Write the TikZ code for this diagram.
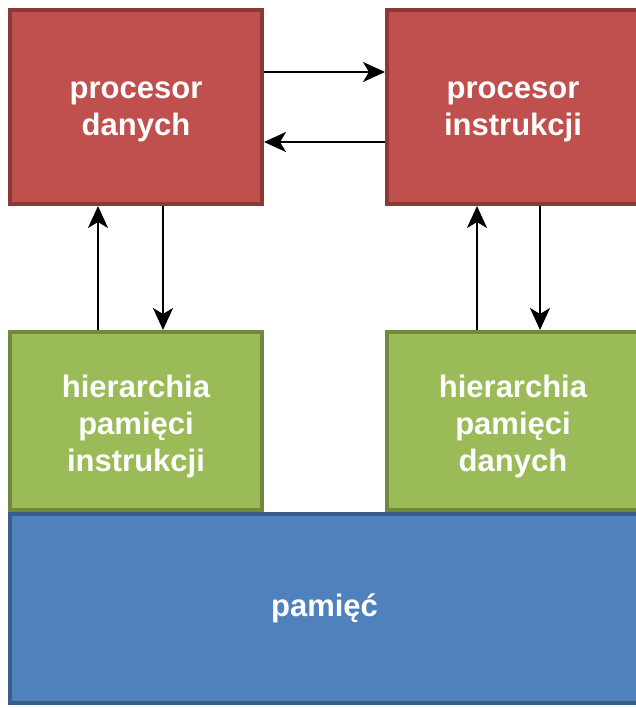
\documentclass[tikz,border=0pt]{standalone}
\usepackage{fontspec}
\setmainfont{Liberation Sans}
\usetikzlibrary{arrows.meta, positioning, calc}
\definecolor{redfill}{HTML}{C0504D}
\definecolor{redline}{HTML}{8C3836}
\definecolor{greenfill}{HTML}{9BBB59}
\definecolor{greenline}{HTML}{71893F}
\definecolor{bluefill}{HTML}{4F81BD}
\definecolor{blueline}{HTML}{385D8A}

\tikzset{
  unit/.style={draw, line width=2pt, align=center, text=white,
    font=\fontsize{15.5}{18.5}\selectfont\bfseries},
  cpu/.style={unit, fill=redfill, draw=redline, minimum width=126pt, minimum height=97pt},
  cache/.style={unit, fill=greenfill, draw=greenline, minimum width=126pt, minimum height=89pt},
  mem/.style={unit, fill=bluefill, draw=blueline, minimum width=314.5pt, minimum height=94.5pt},
  link/.style={-{Stealth[length=11pt, width=10pt, inset=3pt]}, line width=1.2pt, black}
}

\begin{document}
\begin{tikzpicture}[x=0.5pt, y=-0.5pt]
\useasboundingbox (0,0) rectangle (636,708);
\clip (0,0) rectangle (636,708);

% Memory (drawn first, caches sit on top of it)
\node[mem] (pam) at (324.5,608.5) {pamięć};

% Processors
\node[cpu] (pd) at (136,107) {\rule{0pt}{13.5pt}procesor\\danych};
\node[cpu] (pi) at (513,107) {\rule{0pt}{13.5pt}procesor\\instrukcji};

% Memory hierarchies
\node[cache] (hpi) at (136,421) {\rule{0pt}{16.3pt}hierarchia\\pamięci\\instrukcji};
\node[cache] (hpd) at (513,421) {\rule{0pt}{16.3pt}hierarchia\\pamięci\\danych};

% Processor <-> processor
\draw[link] ([yshift=17.5pt]pd.east) -- ([yshift=17.5pt]pi.west);
\draw[link] ([yshift=-17.5pt]pi.west) -- ([yshift=-17.5pt]pd.east);

% Processor <-> hierarchy
\draw[link] ([xshift=-19pt]hpi.north) -- ([xshift=-19pt]pd.south);
\draw[link] ([xshift=13.5pt]pd.south) -- ([xshift=13.5pt]hpi.north);
\draw[link] ([xshift=-18pt]hpd.north) -- ([xshift=-18pt]pi.south);
\draw[link] ([xshift=13.5pt]pi.south) -- ([xshift=13.5pt]hpd.north);

\end{tikzpicture}
\end{document}
